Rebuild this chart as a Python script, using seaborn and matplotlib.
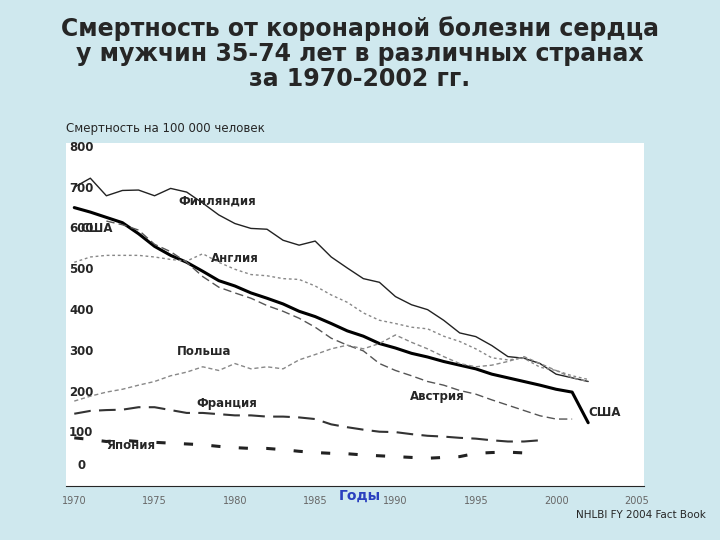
import numpy as np
import pandas as pd
import matplotlib
matplotlib.use("Agg")
import matplotlib.pyplot as plt
import seaborn as sns

years = list(range(1970, 2003))
finland = [702, 724, 681, 694, 695, 681, 699, 690, 663, 634, 613, 601, 599, 572, 560, 570, 531,
           504, 478, 469, 434, 414, 402, 376, 345, 336, 314, 287, 283, 270, 244, 235, 226]
usa = [652, 641, 628, 615, 588, 557, 535, 518, 496, 473, 460, 443, 430, 416, 398, 385, 368,
       350, 337, 319, 308, 295, 286, 275, 266, 257, 244, 235, 226, 217, 207, 200, 125]
england = [518, 531, 535, 535, 535, 531, 525, 521, 539, 518, 501, 488, 485, 478, 476, 460, 438,
           420, 394, 376, 368, 359, 355, 337, 324, 306, 284, 279, 283, 261, 253, 240, 231]
austria_years = list(range(1972, 2002))
austria = [619, 610, 597, 562, 544, 518, 483, 457, 443, 430, 412, 398, 381, 359, 332, 315, 301,
           270, 253, 240, 226, 217, 204, 195, 181, 168, 155, 142, 134, 134]
poland = [178, 190, 200, 207, 217, 226, 240, 249, 262, 253, 270, 257, 262, 257, 279, 292, 306,
          315, 306, 319, 340, 322, 306, 287, 270, 262, 266, 275, 287, 270, 253, 235, 226]
short_years = list(range(1970, 2000))
france = [147, 154, 156, 157, 163, 163, 156, 149, 149, 146, 143, 143, 140, 140, 138, 134, 121,
          114, 108, 103, 102, 97, 93, 91, 88, 86, 82, 79, 79, 82]
japan = [88, 84, 79, 82, 79, 77, 75, 73, 71, 67, 64, 62, 62, 59, 55, 52, 50, 49, 46, 44, 42, 40,
         38, 40, 42, 50, 52, 53, 51, 49]
yticks = [0, 100, 200, 300, 400, 500, 600, 700, 800]
xticks = [1970, 1975, 1980, 1985, 1990, 1995, 2000, 2005]

sns.set_style("white")
plt.rcParams['font.family'] = ['DejaVu Sans']
fig = plt.figure(figsize=(7.2, 5.4), dpi=100, facecolor="#cfe8ee")
fig.text(0.5, 0.9, "Смертность от коронарной болезни сердца\nу мужчин 35-74 лет в различных странах\nза 1970-2002 гг.",
         ha="center", va="center", fontsize=17, fontweight="bold", linespacing=1.05)
ax = fig.add_axes([0.092, 0.1, 0.803, 0.635])
ax.set_facecolor("white")

series = [
    (years, finland, "-", 1.0, "#222222"),
    (years, usa, "-", 2.2, "black"),
    (years, england, (0, (2, 2)), 1.0, "#888888"),
    (austria_years, austria, (0, (6, 3)), 1.0, "#555555"),
    (years, poland, (0, (3, 2)), 1.0, "#888888"),
    (short_years, france, (0, (8, 4)), 1.5, "#333333"),
    (short_years, japan, (0, (3, 6)), 2.2, "#222222"),
]
for xs, ys, ls, lw, c in series:
    sns.lineplot(x=xs, y=ys, ax=ax, color=c, linestyle=ls, linewidth=lw)

ax.set_xlim(1969.5, 2005.5)
ax.set_ylim(-30, 810)
ax.set_xticks(xticks)
ax.set_xticklabels([str(x) for x in xticks], fontsize=7, color="#666666")
ax.set_yticks([])
ytr = ax.get_yaxis_transform()
for y in yticks:
    ax.text(0.005 if y else 0.02, y + (20 if y == 0 else 0), str(y), transform=ytr,
            fontsize=8.5, fontweight="bold", va="center", ha="left")
for s in ["top", "right", "left"]:
    ax.spines[s].set_visible(False)

labels = [(1978.9, 668, "Финляндия"), (1971.4, 600, "США"), (1980.0, 528, "Англия"),
          (1978.1, 300, "Польша"), (1992.6, 190, "Австрия"), (1979.5, 172, "Франция"),
          (1973.5, 70, "Япония"), (2003.0, 150, "США")]
for x, y, t in labels:
    ax.text(x, y, t, fontsize=8.5, fontweight="bold", ha="center", va="center")

fig.text(0.092, 0.755, "Смертность на 100 000 человек", fontsize=8.5)
fig.text(0.5, 0.075, "Годы", ha="center", color="#2a3fbf", fontsize=10, fontweight="bold")
fig.text(0.98, 0.04, "NHLBI FY 2004 Fact Book", ha="right", fontsize=7.5)
fig.savefig("out.png", dpi=100, facecolor=fig.get_facecolor())
